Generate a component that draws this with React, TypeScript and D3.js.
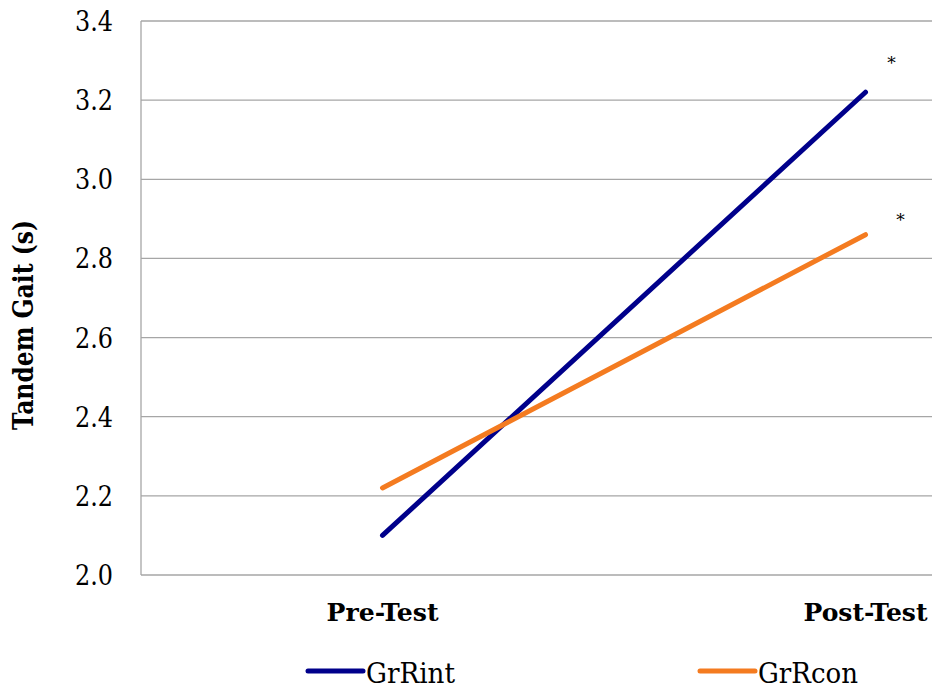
import React from "react";
import * as d3 from "d3";

const categories = ["Pre-Test", "Post-Test"];
const seriesNames = ["GrRint", "GrRcon"];
const grRint = [2.1, 3.22];
const grRcon = [2.22, 2.86];
const yTicks = [2.0, 2.2, 2.4, 2.6, 2.8, 3.0, 3.2, 3.4];
const significance = ["*", "*"];

const colors = ["#00008B", "#F47B20"];
const catWidths = [112, 124];
const legendWidths = [89, 100];

export default function App() {
  const W = 932, H = 684;
  const left = 141, top = 21, bottom = 575;
  const bandW = 483;
  const x = d3.scaleBand<string>().domain(categories).range([left, left + bandW * 2]);
  const y = d3.scaleLinear().domain([2.0, 3.4]).range([bottom, top]);
  const cx = (c: string) => (x(c) as number) + x.bandwidth() / 2;
  const line = d3.line<[string, number]>().x((d) => cx(d[0])).y((d) => y(d[1]));
  const series = [grRint, grRcon];
  const font = "DejaVu Serif";
  return (
    <svg width={W} height={H} style={{ position: "absolute", left: 0, top: 0, background: "#fff" }}>
      <rect width={W} height={H} fill="#fff" />
      {yTicks.map((t) => (
        <g key={t}>
          {t > 2.0 && <line x1={left} x2={left + bandW * 2} y1={y(t)} y2={y(t)} stroke="#a6a6a6" strokeWidth={1.3} />}
          <text x={113} y={y(t) + 10} textAnchor="end" fontFamily={font} fontSize={28} fill="#000"
            textLength={38} lengthAdjust="spacingAndGlyphs">
            {t.toFixed(1)}
          </text>
        </g>
      ))}
      <line x1={left} x2={left + bandW * 2} y1={bottom} y2={bottom} stroke="#a6a6a6" strokeWidth={1.3} />
      <line x1={left} x2={left} y1={top} y2={bottom} stroke="#a6a6a6" strokeWidth={1.3} />
      {categories.map((c, i) => (
        <text key={c} x={cx(c)} y={621} textAnchor="middle" fontFamily={font} fontWeight="bold" fontSize={25} fill="#000"
          textLength={catWidths[i]} lengthAdjust="spacingAndGlyphs">
          {c}
        </text>
      ))}
      <text
        transform={`translate(33, 325) rotate(-90)`}
        textAnchor="middle"
        fontFamily={font}
        fontWeight="bold"
        fontSize={27}
        fill="#000"
        textLength={210}
        lengthAdjust="spacingAndGlyphs"
      >
        Tandem Gait (s)
      </text>
      {series.map((s, i) => (
        <path
          key={i}
          d={line(categories.map((c, j) => [c, s[j]] as [string, number])) as string}
          fill="none"
          stroke={colors[i]}
          strokeWidth={5}
          strokeLinecap="round"
        />
      ))}
      {series.map((s, i) => (
        <text
          key={"a" + i}
          x={cx(categories[1]) + 26 + i * 9}
          y={y(s[1]) - (i === 0 ? 23 : 9)}
          textAnchor="middle"
          fontFamily={font}
          fontSize={17}
          fill="#000"
        >
          {significance[i]}
        </text>
      ))}
      {seriesNames.map((n, i) => {
        const lx = i === 0 ? 308 : 700;
        return (
          <g key={n}>
            <line x1={lx} x2={lx + 55} y1={671} y2={671} stroke={colors[i]} strokeWidth={5} strokeLinecap="round" />
            <text x={lx + 58} y={683} fontFamily={font} fontSize={27} fill="#000"
              textLength={legendWidths[i]} lengthAdjust="spacingAndGlyphs">
              {n}
            </text>
          </g>
        );
      })}
    </svg>
  );
}
